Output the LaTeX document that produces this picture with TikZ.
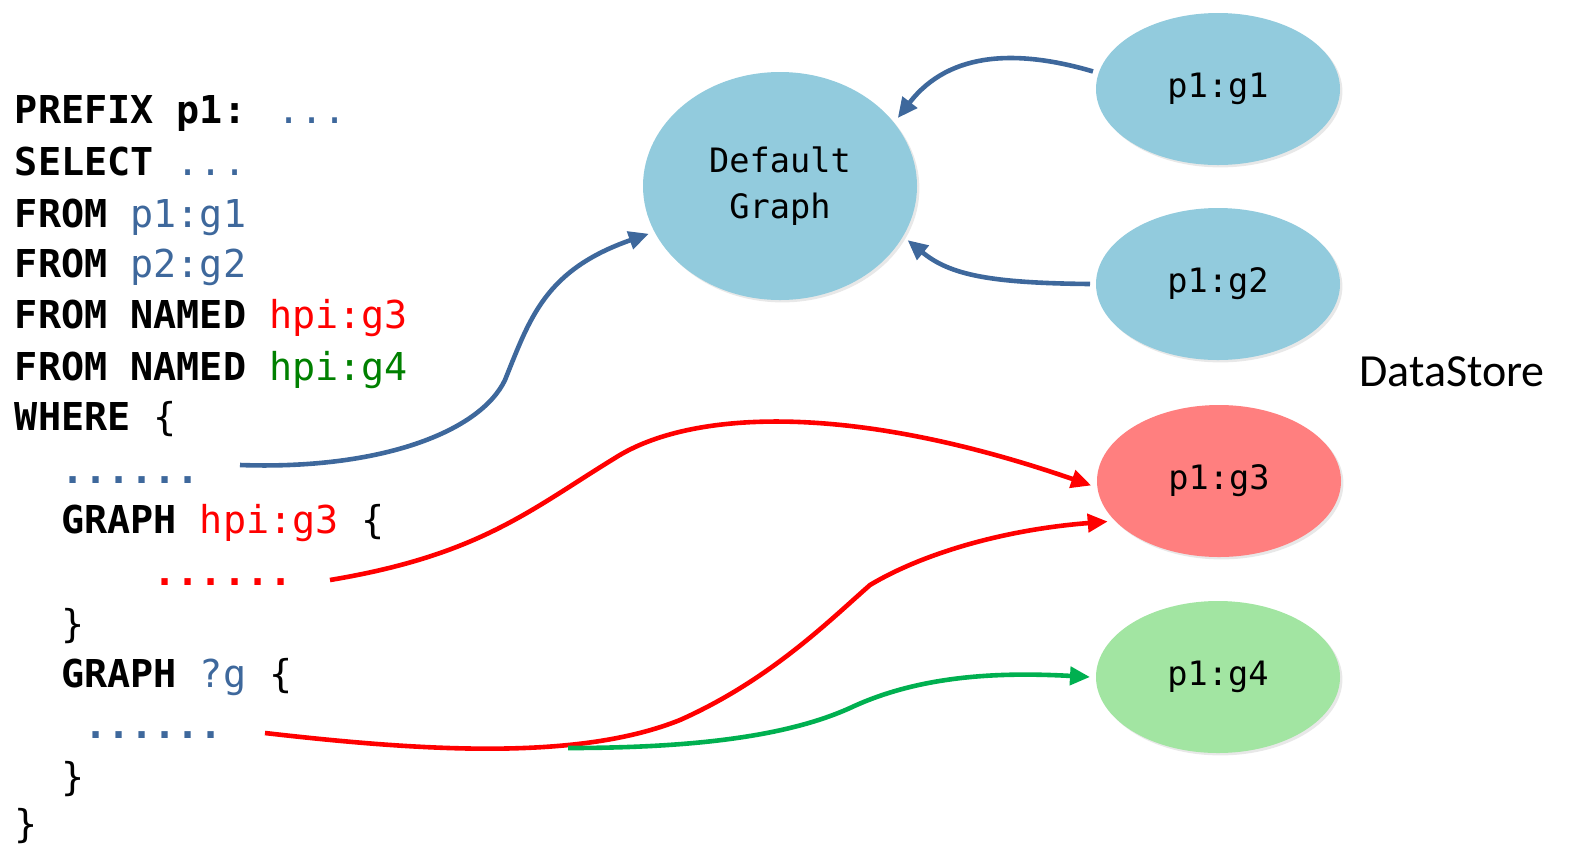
\documentclass[tikz,border=0pt]{standalone}
\usepackage{fontspec}
\usetikzlibrary{shapes.geometric,arrows.meta,shadows}
\newfontfamily\codefont{DejaVu Sans Mono}
\newfontfamily\labfont{Carlito}
\definecolor{qblue}{RGB}{62,104,156}
\definecolor{qred}{RGB}{255,0,0}
\definecolor{qgreen}{RGB}{0,128,0}
\definecolor{agreen}{RGB}{0,176,80}
\definecolor{fblue}{RGB}{146,203,221}
\definecolor{fred}{RGB}{255,127,127}
\definecolor{fgreen}{RGB}{162,229,162}
\begin{document}
\begin{tikzpicture}[x=0.5pt,y=-0.5pt,
  codeline/.style={anchor=base west,inner sep=0pt,outer sep=0pt,
    font=\codefont\fontsize{19.2pt}{25pt}\selectfont},
  graphnode/.style={ellipse,inner sep=0pt,outer sep=3pt,
    minimum width=122pt,minimum height=76pt,
    font=\codefont\fontsize{16.8pt}{23pt}\selectfont,align=center,
    drop shadow={shadow xshift=1.2pt,shadow yshift=-1.2pt,opacity=0.18}},
  link/.style={line width=2.3pt,-{Triangle[length=10pt,width=9pt]}},
]
\path[use as bounding box] (0,0) rectangle (1570,848);
\newcommand{\kw}[1]{\textbf{#1}}
% code
\node[codeline] (l1) at (15,123) {\kw{PREFIX p1:} \textcolor{qblue}{...}};
\node[codeline] (l2) at (15,175) {\kw{SELECT} \textcolor{qblue}{...}};
\node[codeline] (l3) at (15,227) {\kw{FROM} \textcolor{qblue}{p1:g1}};
\node[codeline] (l4) at (15,277) {\kw{FROM} \textcolor{qblue}{p2:g2}};
\node[codeline] (l5) at (15,328) {\kw{FROM NAMED} \textcolor{qred}{hpi:g3}};
\node[codeline] (l6) at (15,380) {\kw{FROM NAMED} \textcolor{qgreen}{hpi:g4}};
\node[codeline] (l7) at (15,430) {\kw{WHERE} \{};
\node[codeline] (l8) at (15,483) {\phantom{xx}\textcolor{qblue}{\kw{......}}};
\node[codeline] (l9) at (15,533) {\phantom{xx}\kw{GRAPH} \textcolor{qred}{hpi:g3} \{};
\node[codeline] (l10) at (15,585) {\phantom{xxxxxx}\textcolor{qred}{\kw{......}}};
\node[codeline] (l11) at (15,637) {\phantom{xx}\}};
\node[codeline] (l12) at (15,687) {\phantom{xx}\kw{GRAPH} \textcolor{qblue}{?g} \{};
\node[codeline] (l13) at (15,738) {\phantom{xxx}\textcolor{qblue}{\kw{......}}};
\node[codeline] (l14) at (15,790) {\phantom{xx}\}};
\node[codeline] (l15) at (15,837) {\}};
% graph nodes
\node[graphnode,fill=fblue,minimum width=137pt,minimum height=114pt] (dg) at (780,186) {Default\\Graph};
\node[graphnode,fill=fblue] (g1) at (1218,89) {p1:g1};
\node[graphnode,fill=fblue] (g2) at (1218,284) {p1:g2};
\node[graphnode,fill=fred] (g3) at (1219,481) {p1:g3};
\node[graphnode,fill=fgreen] (g4) at (1218,677) {p1:g4};
\node[anchor=base west,inner sep=0pt,font=\labfont\fontsize{23pt}{26pt}\selectfont] (ds) at (1359,386) {DataStore};
% free ends
\coordinate (s1) at (240,465);
\coordinate (s2) at (330,580);
\coordinate (s3) at (265,733);
\coordinate (s4) at (568,748);
% connectors
\draw[link,qblue] (s1) .. controls (380,470) and (480,432) .. (505,380)
  .. controls (530,318) and (545,270) .. (dg.200);
\draw[link,qblue] (g1.172) .. controls (1020,50) and (950,50) .. (dg.30);
\draw[link,qblue] (g2.west) .. controls (990,283) and (950,275) .. (dg.-23);
\draw[link,qred] (s2) .. controls (480,555) and (530,510) .. (615,458)
  .. controls (690,410) and (850,402) .. (g3.182);
\draw[link,qred] (s3) .. controls (430,752) and (580,760) .. (680,720)
  .. controls (770,680) and (830,620) .. (870,585)
  .. controls (920,555) and (1000,530) .. (g3.200);
\draw[link,agreen] (s4) .. controls (700,748) and (790,735) .. (850,708)
  .. controls (920,675) and (1000,672) .. (g4.west);
\end{tikzpicture}
\end{document}
